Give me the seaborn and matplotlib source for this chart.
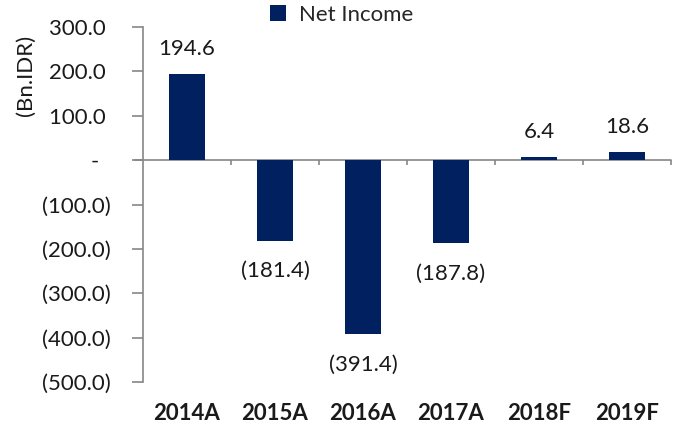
import matplotlib
matplotlib.use("Agg")
import matplotlib.pyplot as plt
import seaborn as sns
import pandas as pd
from matplotlib.patches import Patch

years = ["2014A", "2015A", "2016A", "2017A", "2018F", "2019F"]
net_income = [194.6, -181.4, -391.4, -187.8, 6.4, 18.6]
yticks = [300, 200, 100, 0, -100, -200, -300, -400, -500]

sns.set_theme(style="white")
plt.rcParams["font.family"] = ["Lato", "DejaVu Sans"]

BAR = "#002060"
GREY = "#868686"
FS = 16

df = pd.DataFrame({"year": years, "value": net_income})

fig = plt.figure(figsize=(6.79, 4.30), dpi=100)
L, R = 143, 671
ax = fig.add_axes([L/679, 1-382/430, (R-L)/679, 355/430])

sns.barplot(data=df, x="year", y="value", color=BAR, width=0.4, ax=ax,
            saturation=1, edgecolor="none")

ax.set_ylim(-500, 300)
ax.set_xlim(-0.5, len(years) - 0.5)

def fmt(v):
    if v == 0:
        return "-  "
    if v < 0:
        return f"({abs(v):.1f})"
    return f"{v:.1f} "

ax.set_yticks(yticks)
ax.set_yticklabels([fmt(v) for v in yticks], fontsize=FS, color="#1a1a1a")
ax.tick_params(axis="y", direction="out", length=8, width=1.2, color=GREY,
               pad=15, left=True)
ax.set_xticks(range(len(years)))
ax.set_xticklabels(years, fontsize=FS, fontweight="bold", color="#1a1a1a")
ax.tick_params(axis="x", length=0, pad=15)
ax.set_xlabel("")
ax.set_ylabel("")

for s in ["top", "right", "bottom"]:
    ax.spines[s].set_visible(False)
ax.spines["left"].set_color(GREY)
ax.spines["left"].set_linewidth(1.2)

# zero line with category boundary ticks
ax.axhline(0, color=GREY, lw=1.2, xmin=-8/(R-L), xmax=1, clip_on=False, zorder=0.5)
ax.vlines([i + 0.5 for i in range(len(years))], -12, 0, color=GREY, lw=1.2,
          clip_on=False)

for i, v in enumerate(net_income):
    if v >= 0:
        lbl = f"{v:.1f}"
        off = 18
    else:
        lbl = f"({abs(v):.1f})"
        off = -22
    ax.annotate(lbl, (i, v), xytext=(0, off), textcoords="offset points",
                ha="center", va="center", fontsize=FS, color="#1a1a1a")

fig.text(26/679, 1-75/430, "(Bn.IDR)", rotation=90, ha="center", va="center",
         fontsize=FS, color="#1a1a1a")

handle = Patch(facecolor=BAR, edgecolor="none")
fig.legend([handle], ["Net Income"], loc="center", bbox_to_anchor=(342/679, 1-15/430),
           frameon=False, fontsize=FS, handlelength=0.7, handleheight=0.7,
           handletextpad=0.6, borderpad=0)

fig.savefig("out.png", dpi=100)
